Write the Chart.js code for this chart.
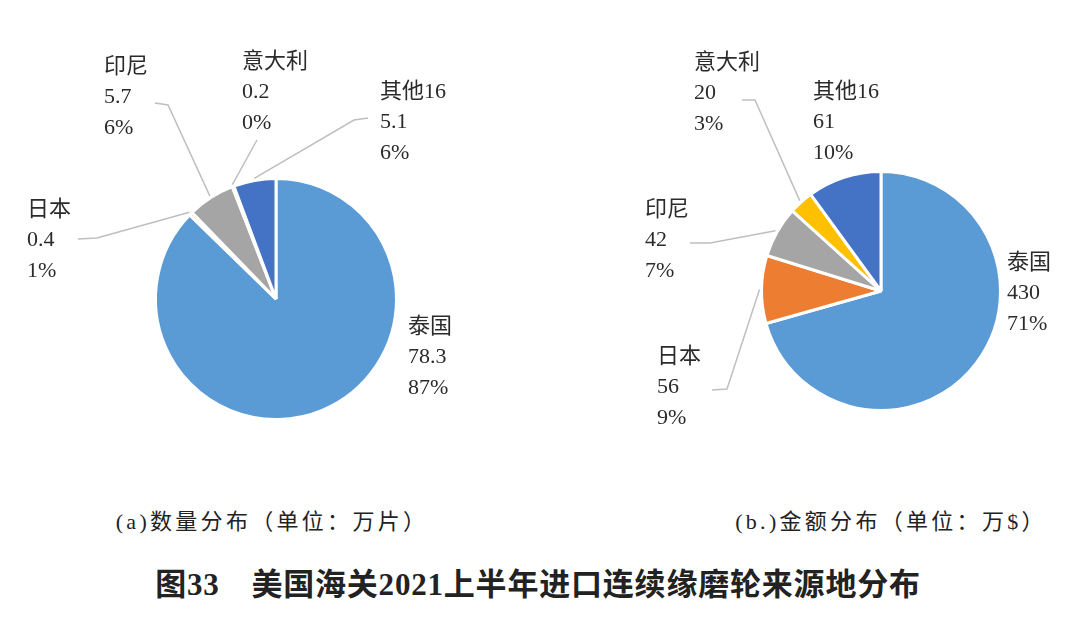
<!DOCTYPE html>
<html>
<head>
<meta charset="utf-8">
<script src="https://cdn.jsdelivr.net/npm/chart.js@4.4.1/dist/chart.umd.min.js"></script>
<style>
  html, body { margin: 0; padding: 0; background: #fff; }
  body { width: 1077px; height: 624px; position: relative; overflow: hidden; }
  .box { position: absolute; top: 0; height: 470px; }
  .cap { position: absolute; font-family: "Liberation Serif", "Noto Sans CJK SC", serif; font-size: 22px; color: #222; white-space: nowrap; transform: translateX(-50%); }
  #title { position: absolute; top: 559px; left: 538px; transform: translateX(-50%); font-family: "Liberation Serif", "Noto Sans CJK SC", serif; font-weight: bold; font-size: 31px; letter-spacing: 0.8px; color: #222; white-space: nowrap; }
</style>
</head>
<body>
<div class="box" style="left:0; width:540px;"><canvas id="chartA"></canvas></div>
<div class="box" style="left:540px; width:537px;"><canvas id="chartB"></canvas></div>
<div class="cap" style="left:272px; top:503px; letter-spacing:3.3px;">(a)数量分布（单位：万片）</div>
<div class="cap" style="left:891px; top:503px; letter-spacing:3.3px;">(b.)金额分布（单位：万$）</div>
<div id="title">图33　美国海关2021上半年进口连续缘磨轮来源地分布</div>
<script>
// categories (same order for both pies, clockwise from 12 o'clock)
let countries = ['泰国', '日本', '印尼', '意大利', '其他16'];
let colors = ['#5B9BD5', '#ED7D31', '#A5A5A5', '#FFC000', '#4472C4'];

// (a) quantity, 万片
let qtyValues = [78.3, 0.4, 5.7, 0.2, 5.1];
let qtyPct = [87, 1, 6, 0, 6];

// (b) amount, 万$
let amtValues = [430, 56, 42, 20, 61];
let amtPct = [71, 9, 7, 3, 10];

// label placement relative to pie centre: text [dx, dy], leader [start, elbow] or null
let qtyLabels = [
    {text: [132, 28], line: null},
    {text: [-249, -89], line: [[-198, -60], [-179, -61]]},
    {text: [-172, -232], line: [[-121, -196], [-108, -194]]},
    {text: [-34, -237], line: [[-19, -159], [-19, -159]]},
    {text: [104, -207], line: [[92, -181], [78, -179]]}
];
let amtLabels = [
    {text: [126, -28], line: null},
    {text: [-224, 66], line: [[-169, 99], [-154, 98]]},
    {text: [-236, -81], line: [[-191, -48], [-171, -48]]},
    {text: [-187, -228], line: [[-139, -191], [-126, -191]]},
    {text: [-68, -199], line: null}
];

const pieLabels = {
    id: 'pieLabels',
    afterDraw(chart, args, opts) {
        const ctx = chart.ctx;
        const arcs = chart.getDatasetMeta(0).data;
        const values = chart.data.datasets[0].data;
        ctx.save();
        arcs.forEach((arc, i) => {
            const p = arc.getProps(['x', 'y', 'startAngle', 'endAngle', 'outerRadius'], true);
            const lab = opts.layout[i];
            const mid = (p.startAngle + p.endAngle) / 2;
            if (lab.line) {
                ctx.strokeStyle = '#BFBFBF';
                ctx.lineWidth = 1.5;
                ctx.beginPath();
                ctx.moveTo(p.x + lab.line[0][0], p.y + lab.line[0][1]);
                ctx.lineTo(p.x + lab.line[1][0], p.y + lab.line[1][1]);
                ctx.lineTo(p.x + Math.cos(mid) * (p.outerRadius + 2), p.y + Math.sin(mid) * (p.outerRadius + 2));
                ctx.stroke();
            }
            const lines = [chart.data.labels[i], String(values[i]), opts.pct[i] + '%'];
            ctx.fillStyle = '#2b2b2b';
            ctx.font = '22px "Liberation Serif", "Noto Sans CJK SC", serif';
            ctx.textAlign = 'left';
            ctx.textBaseline = 'middle';
            lines.forEach((t, k) => {
                ctx.fillText(t, p.x + lab.text[0], p.y + lab.text[1] + k * 30.5);
            });
        });
        ctx.restore();
    }
};

function makePie(id, values, pct, layout, padding) {
    return new Chart(document.getElementById(id), {
        type: 'pie',
        data: {
            labels: countries,
            datasets: [{
                data: values,
                backgroundColor: colors,
                borderColor: '#fff',
                borderWidth: 3
            }]
        },
        options: {
            responsive: true,
            maintainAspectRatio: false,
            animation: false,
            layout: {padding: padding},
            plugins: {
                legend: {display: false},
                tooltip: {enabled: false},
                pieLabels: {layout: layout, pct: pct}
            }
        },
        plugins: [pieLabels]
    });
}

makePie('chartA', qtyValues, qtyPct, qtyLabels, {left: 154, right: 142, top: 177, bottom: 49});
makePie('chartB', amtValues, amtPct, amtLabels, {left: 220, right: 75, top: 170, bottom: 58});
</script>
</body>
</html>
